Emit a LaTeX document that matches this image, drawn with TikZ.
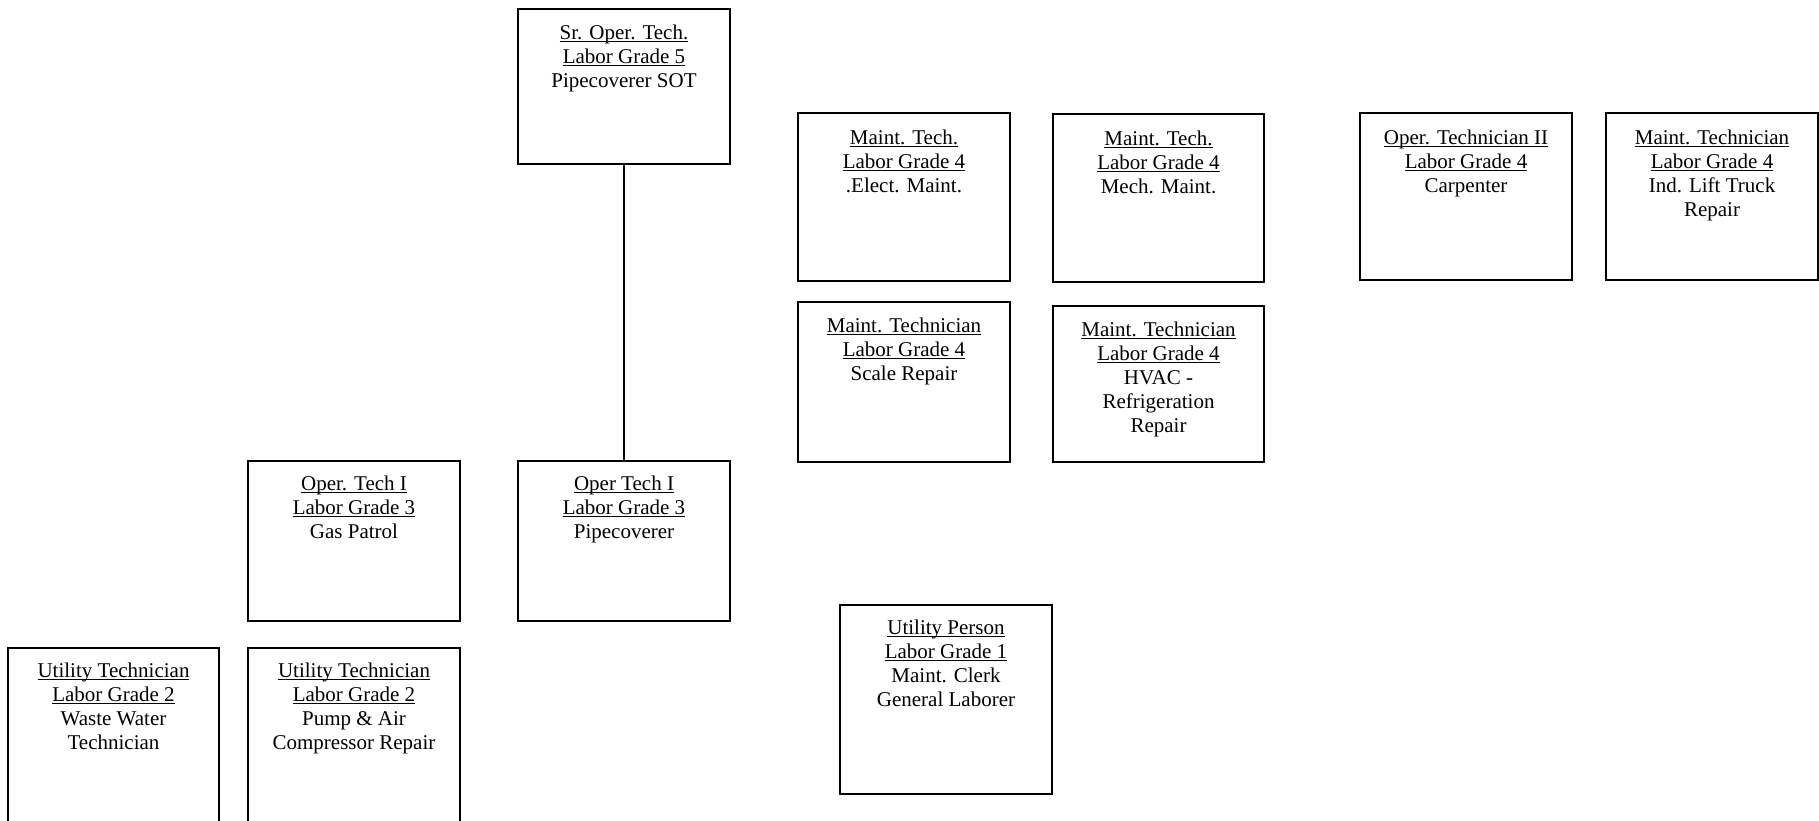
\documentclass[tikz,border=0pt]{standalone}
\usepackage{fontspec}
\setmainfont{Liberation Serif}
\newcommand\ulx[1]{\setbox0\hbox{#1}\rlap{\rule[-2.5pt]{\wd0}{1pt}}\box0}
\begin{document}
\begin{tikzpicture}[x=1pt,y=-1pt,
  box/.style={draw, line width=1.6pt, minimum width=212pt, inner sep=0pt},
  txt/.style={anchor=north, align=center, inner sep=0pt, font=\fontsize{21}{24}\selectfont}]
\useasboundingbox (0,0) rectangle (1819,820);
\clip (0,0) rectangle (1819,820);
\fill[white] (0,0) rectangle (1819,820);
% boxes
\node[box, minimum height=155pt] (sr) at (624,86.5) {};
\node[box, minimum height=168pt] (elec) at (904,197) {};
\node[box, minimum height=168pt, minimum width=211pt] (mech) at (1158.5,198) {};
\node[box, minimum height=167pt] (carp) at (1466,196.5) {};
\node[box, minimum height=167pt] (lift) at (1712,196.5) {};
\node[box, minimum height=160pt] (scale) at (904,382) {};
\node[box, minimum height=156pt, minimum width=211pt] (hvac) at (1158.5,384) {};
\node[box, minimum height=160pt] (gas) at (354,541) {};
\node[box, minimum height=160pt] (pipe) at (624,541) {};
\node[box, minimum height=189pt] (util) at (946,699.5) {};
\node[box, minimum height=192pt, minimum width=211pt] (waste) at (113.5,744) {};
\node[box, minimum height=192pt] (pump) at (354,744) {};
% texts
\node[txt] (srT) at ([yshift=-14pt]sr.north) {\strut\ulx{Sr. Oper. Tech.}\\\strut\ulx{Labor Grade 5}\\\strut Pipecoverer SOT};
\node[txt] (elecT) at ([yshift=-15pt]elec.north) {\strut\ulx{Maint. Tech.}\\\strut\ulx{Labor Grade 4}\\\strut .Elect. Maint.};
\node[txt] (mechT) at ([yshift=-15pt]mech.north) {\strut\ulx{Maint. Tech.}\\\strut\ulx{Labor Grade 4}\\\strut Mech. Maint.};
\node[txt] (carpT) at ([yshift=-15pt]carp.north) {\strut\ulx{Oper. Technician II}\\\strut\ulx{Labor Grade 4}\\\strut Carpenter};
\node[txt] (liftT) at ([yshift=-15pt]lift.north) {\strut\ulx{Maint. Technician}\\\strut\ulx{Labor Grade 4}\\\strut Ind. Lift Truck\\\strut Repair};
\node[txt] (scaleT) at ([yshift=-14pt]scale.north) {\strut\ulx{Maint. Technician}\\\strut\ulx{Labor Grade 4}\\\strut Scale Repair};
\node[txt] (hvacT) at ([yshift=-14pt]hvac.north) {\strut\ulx{Maint. Technician}\\\strut\ulx{Labor Grade 4}\\\strut HVAC -\\\strut Refrigeration\\\strut Repair};
\node[txt] (gasT) at ([yshift=-13pt]gas.north) {\strut\ulx{Oper. Tech I}\\\strut\ulx{Labor Grade 3}\\\strut Gas Patrol};
\node[txt] (pipeT) at ([yshift=-13pt]pipe.north) {\strut\ulx{Oper Tech I}\\\strut\ulx{Labor Grade 3}\\\strut Pipecoverer};
\node[txt] (utilT) at ([yshift=-13pt]util.north) {\strut\ulx{Utility Person}\\\strut\ulx{Labor Grade 1}\\\strut Maint. Clerk\\\strut General Laborer};
\node[txt] (wasteT) at ([yshift=-13pt]waste.north) {\strut\ulx{Utility Technician}\\\strut\ulx{Labor Grade 2}\\\strut Waste Water\\\strut Technician};
\node[txt] (pumpT) at ([yshift=-13pt]pump.north) {\strut\ulx{Utility Technician}\\\strut\ulx{Labor Grade 2}\\\strut Pump \& Air\\\strut Compressor Repair};
% connector
\draw[line width=1.6pt] (sr.south) -- (pipe.north);
\end{tikzpicture}
\end{document}
